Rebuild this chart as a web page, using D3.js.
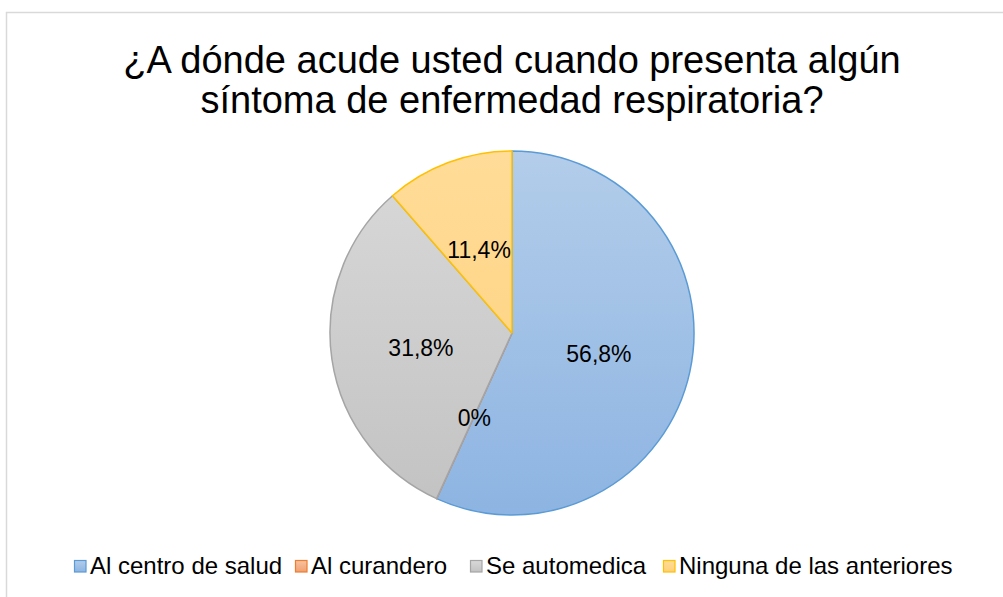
<!DOCTYPE html>
<html>
<head>
<meta charset="utf-8">
<script src="https://cdn.jsdelivr.net/npm/d3@7"></script>
<style>
  body { margin: 0; background: #fff; }
  svg { font-family: "Liberation Sans", Arial, sans-serif; }
</style>
</head>
<body>
<div id="chart"></div>
<script>
// Chart data
const categories = ["Al centro de salud", "Al curandero", "Se automedica", "Ninguna de las anteriores"];
const values = [56.8, 0, 31.8, 11.4];
const labels = ["56,8%", "0%", "31,8%", "11,4%"];
const titleLines = ["¿A dónde acude usted cuando presenta algún", "síntoma de enfermedad respiratoria?"];

const width = 1003, height = 597;
const cx = 512, cy = 333, radius = 182;

// fill gradient top/bottom, stroke
const colors = [
    { top: "#b3cdea", bottom: "#8db4e2", stroke: "#5b9bd5" },
    { top: "#f8c3a0", bottom: "#f0a070", stroke: "#ed7d31" },
    { top: "#d9d9d9", bottom: "#c2c2c2", stroke: "#a5a5a5" },
    { top: "#ffdc98", bottom: "#ffd07a", stroke: "#ffc000" }
];

const svg = d3.select("#chart").append("svg")
    .attr("width", width)
    .attr("height", height);

const defs = svg.append("defs");

// slice gradients, in the pie group's frame
colors.forEach(function (c, i) {
    const g = defs.append("linearGradient")
        .attr("id", "grad" + i)
        .attr("gradientUnits", "userSpaceOnUse")
        .attr("x1", 0).attr("y1", -radius)
        .attr("x2", 0).attr("y2", radius);
    g.append("stop").attr("offset", "0%").attr("stop-color", c.top);
    g.append("stop").attr("offset", "100%").attr("stop-color", c.bottom);

    const lg = defs.append("linearGradient")
        .attr("id", "lgrad" + i)
        .attr("x1", 0).attr("y1", 0).attr("x2", 0).attr("y2", 1);
    lg.append("stop").attr("offset", "0%").attr("stop-color", c.top);
    lg.append("stop").attr("offset", "100%").attr("stop-color", c.bottom);
});

// chart area border
svg.append("rect")
    .attr("x", 6.5).attr("y", 12.5)
    .attr("width", 1003).attr("height", 600)
    .attr("fill", "none")
    .attr("stroke", "#d9d9d9")
    .attr("stroke-width", 1.5);

// Title
svg.append("g").selectAll("text")
    .data(titleLines)
    .join("text")
    .attr("x", 512)
    .attr("y", function (d, i) { return 73 + i * 40; })
    .attr("text-anchor", "middle")
    .attr("font-size", "38px")
    .attr("fill", "#000")
    .text(function (d) { return d; });

// Pie
const pie = d3.pie().sort(null).value(function (d) { return d; });
const arcs = pie(values);
const arc = d3.arc().innerRadius(0).outerRadius(radius);

const g = svg.append("g").attr("transform", "translate(" + cx + "," + cy + ")");

g.selectAll("path")
    .data(arcs)
    .join("path")
    .attr("d", arc)
    .attr("fill", function (d, i) { return "url(#grad" + i + ")"; })
    .attr("stroke", function (d, i) { return colors[i].stroke; })
    .attr("stroke-width", 1.5)
    .attr("stroke-linejoin", "round");

// Data labels at the middle of each slice
const labelArc = d3.arc().innerRadius(radius * 0.5).outerRadius(radius * 0.5);
const labelOffsets = [[-2, 2], [0, 2], [-1, 2], [-1, 2]];

g.selectAll("text.lbl")
    .data(arcs)
    .join("text")
    .attr("class", "lbl")
    .attr("transform", function (d, i) {
        const p = labelArc.centroid(d);
        return "translate(" + (p[0] + labelOffsets[i][0]) + "," + (p[1] + labelOffsets[i][1]) + ")";
    })
    .attr("text-anchor", "middle")
    .attr("dy", "0.35em")
    .attr("font-size", "23px")
    .attr("fill", "#000")
    .text(function (d, i) { return labels[i]; });

// Legend
const legendX = [74, 295, 470, 663];
const legend = svg.append("g").attr("transform", "translate(0,566)");
const items = legend.selectAll("g")
    .data(categories)
    .join("g")
    .attr("transform", function (d, i) { return "translate(" + legendX[i] + ",0)"; });

items.append("rect")
    .attr("x", 0.5).attr("y", -5.5)
    .attr("width", 11.5).attr("height", 11.5)
    .attr("fill", function (d, i) { return "url(#lgrad" + i + ")"; })
    .attr("stroke", function (d, i) { return colors[i].stroke; })
    .attr("stroke-width", 1.2);

items.append("text")
    .attr("x", 16)
    .attr("y", 8)
    .attr("font-size", "24px")
    .attr("fill", "#000")
    .text(function (d) { return d; });
</script>
</body>
</html>
